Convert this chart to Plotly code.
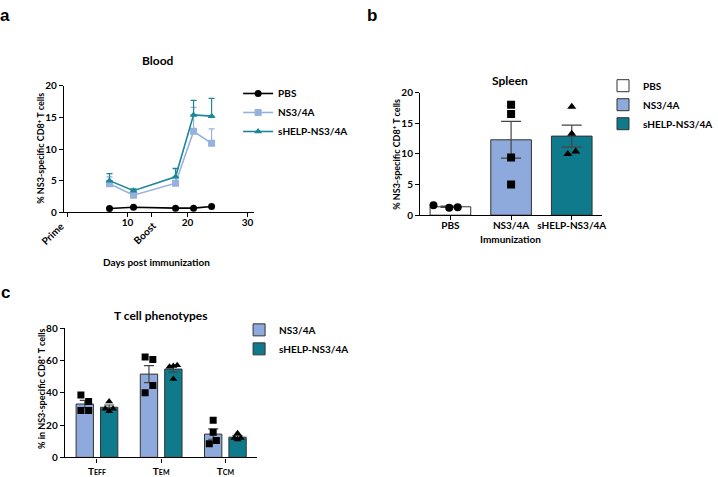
import plotly.graph_objects as go

W, H = 718, 477

# ---------------- Panel a: Blood (time course) ----------------
days = [7, 11, 18, 21, 24]
pbs_blood = [0.6, 0.8, 0.65, 0.65, 0.9]
pbs_blood_err = [0.05, 0.05, 0.05, 0.05, 0.05]
ns3_blood = [4.5, 2.7, 4.6, 12.8, 10.9]
ns3_blood_err = [1.1, 0.4, 2.4, 3.8, 2.3]
shelp_blood = [5.0, 3.4, 5.6, 15.4, 15.2]
shelp_blood_err = [1.1, 0.3, 1.3, 2.3, 2.8]
blood_xticks = [10, 20, 30]
blood_event_days = [0, 14]
blood_event_labels = ["Prime", "Boost"]

# ---------------- Panel b: Spleen ----------------
spleen_groups = ["PBS", "NS3/4A", "sHELP-NS3/4A"]
spleen_mean = [1.37, 12.3, 12.9]
spleen_sem = [0.12, 3.0, 1.8]
spleen_points = [[1.6, 1.2, 1.3], [18.0, 16.5, 9.4, 5.0], [17.7, 13.3, 10.0, 10.4]]

# ---------------- Panel c: T cell phenotypes ----------------
phenotypes = ["T<span style='font-size:7px'>EFF</span>",
              "T<span style='font-size:7px'>EM</span>",
              "T<span style='font-size:7px'>CM</span>"]
ns3_pheno_mean = [33.0, 51.5, 14.4]
ns3_pheno_sem = [2.2, 5.3, 3.2]
ns3_pheno_points = [[38.5, 34.5, 29.0, 29.0], [62.0, 60.5, 44.5, 40.0], [23.0, 15.5, 10.5, 8.5]]
shelp_pheno_mean = [31.0, 54.6, 12.5]
shelp_pheno_sem = [1.4, 1.9, 1.0]
shelp_pheno_points = [[34.5, 30.0, 30.0, 28.5], [56.0, 56.5, 57.0, 48.5], [15.0, 12.0, 12.0, 11.0]]

# ---------------- styles ----------------
FONT = "Lato"
LIGHT_BAR = "#8EA9DB"
TEAL_BAR = "#0E7A8C"
LIGHT_LINE = "#97B1DE"
TEAL_LINE = "#1E8797"
OUTLINE = "#333333"

# jitter patterns (horizontal spread of individual dots, in category units)
spleen_jitter = [[-0.28, -0.02, 0.12], [0, 0, 0, 0], [0, 0, -0.065, 0.065]]
pheno_jitter = [[-0.06, 0.06, -0.06, 0.06], [-0.06, 0.06, 0.06, -0.06], [0, 0, 0.05, -0.06]]
pheno_jitter_tri = [[0, -0.06, 0.06, 0], [-0.06, 0, 0.06, 0], [0, -0.05, 0.05, 0]]


def px_x(p):
    return p / W


def px_y(p):
    return 1 - p / H


fig = go.Figure()

# ---- panel a traces ----
for name, vals, err, col, sym in [
    ("PBS", pbs_blood, pbs_blood_err, "black", "circle"),
    ("NS3/4A", ns3_blood, ns3_blood_err, LIGHT_LINE, "square"),
    ("sHELP-NS3/4A", shelp_blood, shelp_blood_err, TEAL_LINE, "triangle-up"),
]:
    fig.add_trace(go.Scatter(
        x=days, y=vals, name=name, mode="lines+markers",
        line=dict(color=col, width=1.6),
        marker=dict(color=col, symbol=sym, size=7),
        error_y=dict(type="data", symmetric=False, array=err, arrayminus=[0] * len(err),
                     color=col, thickness=1.2, width=3),
        xaxis="x", yaxis="y", legend="legend",
    ))

# ---- panel b traces ----
spleen_colors = ["white", LIGHT_BAR, TEAL_BAR]
for i, g in enumerate(spleen_groups):
    fig.add_trace(go.Bar(
        x=[i], y=[spleen_mean[i]], name=g, width=0.67,
        marker=dict(color=spleen_colors[i], line=dict(color=OUTLINE, width=1)),
        error_y=dict(type="data", array=[spleen_sem[i]], color="#444444", thickness=1.2, width=10),
        xaxis="x2", yaxis="y2", legend="legend2",
    ))
spleen_symbols = ["circle", "square", "triangle-up"]
for i, pts in enumerate(spleen_points):
    fig.add_trace(go.Scatter(
        x=[i + j for j in spleen_jitter[i]], y=pts, mode="markers",
        marker=dict(color="black", symbol=spleen_symbols[i], size=8),
        showlegend=False, xaxis="x2", yaxis="y2", hoverinfo="y",
    ))

# ---- panel c traces ----
pos = list(range(len(phenotypes)))
OFF = 0.19
BW = 0.27
fig.add_trace(go.Bar(
    x=pos, y=ns3_pheno_mean, name="NS3/4A", width=BW, offset=-OFF - BW / 2,
    marker=dict(color=LIGHT_BAR, line=dict(color=OUTLINE, width=1)),
    error_y=dict(type="data", array=ns3_pheno_sem, color="#444444", thickness=1.2, width=5),
    xaxis="x3", yaxis="y3", legend="legend3",
))
fig.add_trace(go.Bar(
    x=pos, y=shelp_pheno_mean, name="sHELP-NS3/4A", width=BW, offset=OFF - BW / 2,
    marker=dict(color=TEAL_BAR, line=dict(color=OUTLINE, width=1)),
    error_y=dict(type="data", array=shelp_pheno_sem, color="#444444", thickness=1.2, width=5),
    xaxis="x3", yaxis="y3", legend="legend3",
))
for i in pos:
    fig.add_trace(go.Scatter(
        x=[i - OFF + j for j in pheno_jitter[i]], y=ns3_pheno_points[i], mode="markers",
        marker=dict(color="black", symbol="square", size=7),
        showlegend=False, xaxis="x3", yaxis="y3", hoverinfo="y",
    ))
    fig.add_trace(go.Scatter(
        x=[i + OFF + j for j in pheno_jitter_tri[i]], y=shelp_pheno_points[i], mode="markers",
        marker=dict(color="black", symbol="triangle-up", size=7),
        showlegend=False, xaxis="x3", yaxis="y3", hoverinfo="y",
    ))

tickfont = dict(family=FONT, size=10, color="black", weight="bold")
axis_common = dict(showgrid=False, zeroline=False, showline=True, linecolor="black",
                   linewidth=1.3, ticks="outside", ticklen=4, tickwidth=1.2,
                   tickcolor="black", tickfont=tickfont)

legend_common = dict(font=dict(family=FONT, size=10, color="black", weight="bold"),
                     bgcolor="rgba(0,0,0,0)", xanchor="left", yanchor="top",
                     itemwidth=30, tracegroupgap=0)

fig.update_layout(
    width=W, height=H,
    margin=dict(l=0, r=0, t=0, b=0),
    paper_bgcolor="white", plot_bgcolor="white",
    barmode="overlay",
    font=dict(family=FONT, color="black"),
    xaxis=dict(domain=[px_x(66), px_x(262)], range=[-0.6, 31], anchor="y",
               tickvals=blood_xticks, ticklabelstandoff=-3,
               minor=dict(tickvals=blood_event_days, ticks="outside", ticklen=4,
                          tickwidth=1.2, tickcolor="black", showgrid=False),
               **axis_common),
    yaxis=dict(domain=[px_y(211), px_y(81)], range=[0, 20], dtick=5, anchor="x", **axis_common),
    xaxis2=dict(domain=[px_x(434), px_x(622)], range=[-0.5, 2.5], anchor="y2",
                tickvals=[0, 1, 2], ticktext=spleen_groups, ticklabelstandoff=-3, **axis_common),
    yaxis2=dict(domain=[px_y(214), px_y(88)], range=[0, 20], dtick=5, anchor="x2", **axis_common),
    xaxis3=dict(domain=[px_x(67), px_x(266)], range=[-0.5, 2.5], anchor="y3",
                tickvals=pos, ticktext=phenotypes, ticklabelstandoff=0, **axis_common),
    yaxis3=dict(domain=[px_y(463), px_y(330)], range=[0, 80], dtick=20, anchor="x3", **axis_common),
    legend=dict(x=px_x(246), y=px_y(74), **legend_common),
    legend2=dict(x=px_x(623), y=px_y(66), **legend_common),
    legend3=dict(x=px_x(247), y=px_y(317), **legend_common),
    showlegend=True,
)

ann = []
title_font = dict(family=FONT, size=12, color="black", weight="bold")
axt_font = dict(family=FONT, size=10, color="black", weight="bold")
ytitle_font = dict(family=FONT, size=9, color="black", weight="bold")
letter_font = dict(family="Liberation Sans", size=17, color="black", weight="bold")

# panel letters
ann.append(dict(text="a", x=px_x(5), y=px_y(9), font=letter_font))
ann.append(dict(text="b", x=px_x(384), y=px_y(9), font=letter_font))
ann.append(dict(text="c", x=px_x(6), y=px_y(293), font=letter_font))
# titles
ann.append(dict(text="Blood", x=px_x(163), y=px_y(55), font=title_font))
ann.append(dict(text="Spleen", x=px_x(527), y=px_y(76), font=title_font))
ann.append(dict(text="T cell phenotypes", x=px_x(166), y=px_y(317), font=title_font))
# axis titles
ann.append(dict(text="Days post immunization", x=px_x(162), y=px_y(262), font=axt_font))
ann.append(dict(text="Immunization", x=px_x(527), y=px_y(239), font=axt_font))
ann.append(dict(text="% NS3-specific CD8<sup>+</sup> T cells", x=px_x(42), y=px_y(145),
                textangle=-90, font=ytitle_font))
ann.append(dict(text="% NS3-specific CD8<sup>+</sup> T cells", x=px_x(409), y=px_y(151),
                textangle=-90, font=ytitle_font))
ann.append(dict(text="% in NS3-specific CD8<sup>+</sup> T cells", x=px_x(43), y=px_y(393),
                textangle=-90, font=ytitle_font))

for a in ann:
    a.update(xref="paper", yref="paper", showarrow=False, xanchor="center", yanchor="middle")

# rotated event labels (Prime / Boost) on the blood x-axis
for xv, label, xs in zip(blood_event_days, blood_event_labels, [2, 9]):
    ann.append(dict(text=label, x=xv, y=px_y(211), xref="x", yref="paper",
                    showarrow=False, textangle=-45, xanchor="right", yanchor="top",
                    xshift=xs, yshift=-4, font=tickfont))

fig.update_layout(annotations=ann)

fig.write_html("out.html", config={"displayModeBar": False},
               post_script="document.body.style.margin='0';document.body.style.overflow='hidden';")
